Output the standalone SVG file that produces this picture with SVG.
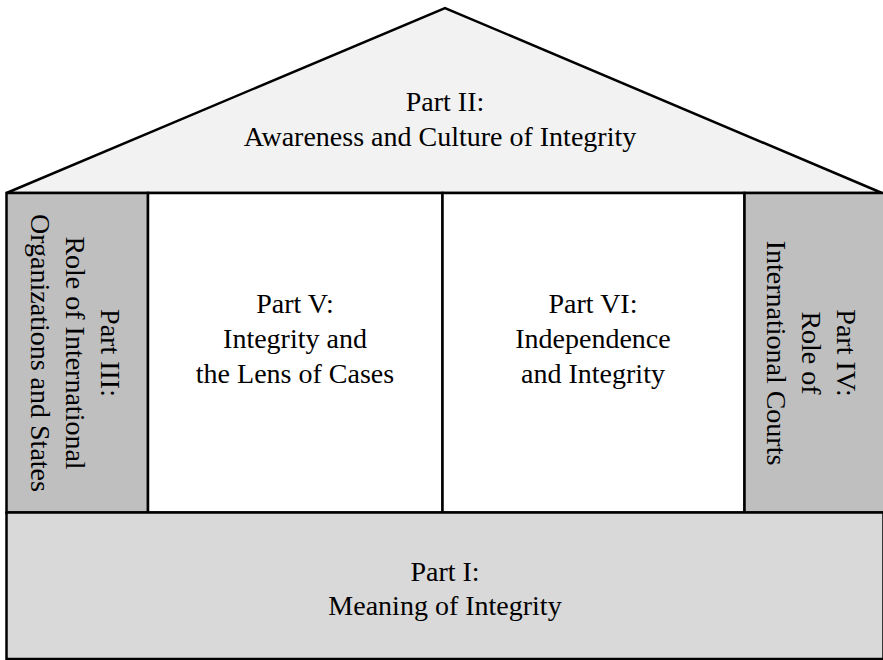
<svg xmlns="http://www.w3.org/2000/svg" width="883" height="660" viewBox="0 0 883 660">
  <style>
    .box { stroke: #000; stroke-width: 2.5; stroke-linejoin: miter; }
    .roof { fill: #f2f2f2; }
    .side { fill: #bfbfbf; }
    .mid { fill: #ffffff; }
    .base { fill: #d9d9d9; }
    .lbl { font-family: 'Liberation Serif', 'Times New Roman', Times, 'DejaVu Serif', serif; font-size: 28px; fill: #000; text-anchor: middle; }
  </style>
  <rect width="883" height="660" fill="#ffffff"/>

  <!-- roof -->
  <g id="part2">
    <polygon class="box roof" points="6.5,193 445,8 882,193"/>
    <text class="lbl" x="445" y="111">Part II:</text>
    <text class="lbl" x="440" y="146">Awareness and Culture of Integrity</text>
  </g>

  <!-- left pillar -->
  <g id="part3">
    <rect class="box side" x="6.5" y="193" width="141.5" height="319.5"/>
    <g transform="translate(77,353) rotate(90)">
      <text class="lbl" x="0" y="-24">Part III:</text>
      <text class="lbl" x="0" y="11">Role of International</text>
      <text class="lbl" x="0" y="46">Organizations and States</text>
    </g>
  </g>

  <!-- centre rooms -->
  <g id="part5">
    <rect class="box mid" x="148" y="193" width="294.5" height="319.5"/>
    <text class="lbl" x="295" y="313">Part V:</text>
    <text class="lbl" x="295" y="348">Integrity and</text>
    <text class="lbl" x="295" y="383">the Lens of Cases</text>
  </g>
  <g id="part6">
    <rect class="box mid" x="442.5" y="193" width="302" height="319.5"/>
    <text class="lbl" x="593" y="313">Part VI:</text>
    <text class="lbl" x="593" y="348">Independence</text>
    <text class="lbl" x="593" y="383">and Integrity</text>
  </g>

  <!-- right pillar -->
  <g id="part4">
    <rect class="box side" x="744.5" y="193" width="140" height="319.5"/>
    <g transform="translate(813,353) rotate(90)">
      <text class="lbl" x="0" y="-24">Part IV:</text>
      <text class="lbl" x="0" y="11">Role of</text>
      <text class="lbl" x="0" y="46">International Courts</text>
    </g>
  </g>

  <!-- foundation -->
  <g id="part1">
    <rect class="box base" x="6.5" y="512.5" width="877" height="146.5"/>
    <text class="lbl" x="445" y="581">Part I:</text>
    <text class="lbl" x="445" y="615">Meaning of Integrity</text>
  </g>

  <g id="connectors"/>
</svg>
